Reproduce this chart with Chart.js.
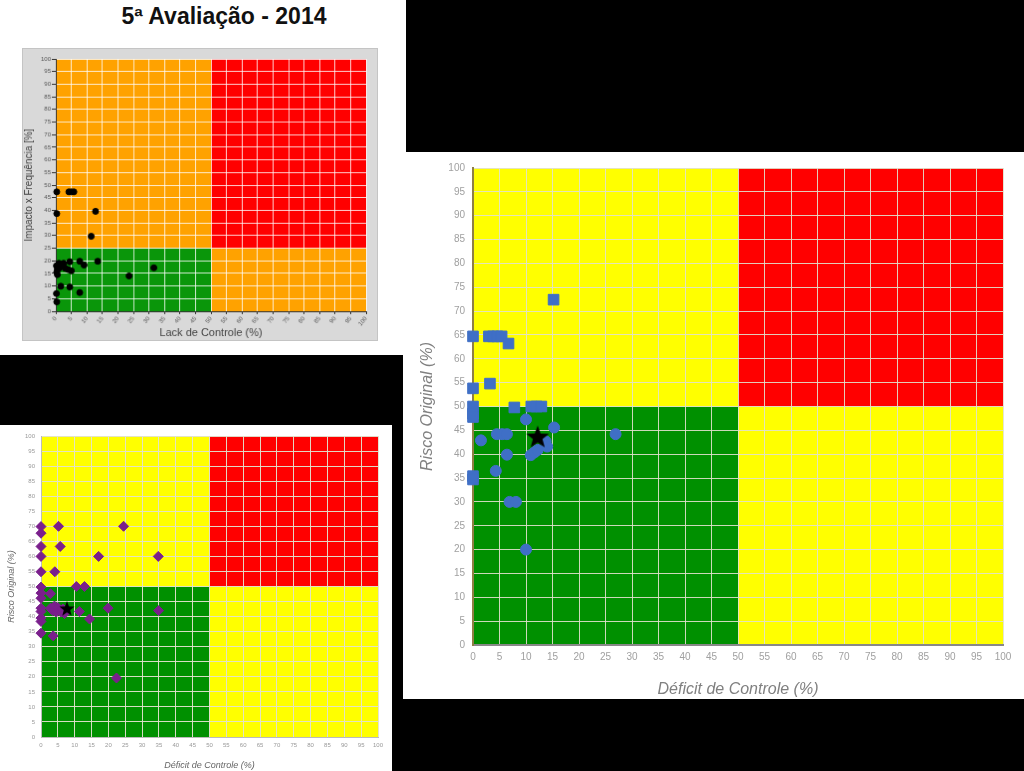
<!DOCTYPE html>
<html>
<head>
<meta charset="utf-8">
<script src="https://cdn.jsdelivr.net/npm/chart.js@4/dist/chart.umd.min.js"></script>
<style>
body { margin: 0; width: 1024px; height: 771px; background: #000; position: relative; overflow: hidden; font-family: "Liberation Sans", Arial, sans-serif; }
.panel { position: absolute; background: #fff; }
canvas { position: absolute; }
#titulo { position: absolute; left: 0; top: 3px; width: 448px; text-align: center; font-weight: bold; font-size: 23px; color: #111; }
</style>
</head>
<body>
<div class="panel" style="left:0;top:0;width:406px;height:355px"></div>
<div class="panel" style="left:0;top:425px;width:392px;height:346px"></div>
<div class="panel" style="left:403px;top:152px;width:621px;height:547px"></div>
<div id="titulo">5ª Avaliação - 2014</div>
<canvas id="grafico1" style="left:22px;top:48px;background:#d9d9d9;border:1px solid #c4c4c4" width="356" height="293"></canvas>
<canvas id="grafico2" style="left:403px;top:152px" width="621" height="547"></canvas>
<canvas id="grafico3" style="left:0;top:425px" width="392" height="346"></canvas>
<script>
// 5a Avaliacao - 2014 (top left)
const lackControle = [0.3, 4.2, 5.0, 5.8, 0.3, 12.8, 11.4, 7.7, 9.1, 13.5, 23.6, 31.6, 4.5, 1.6, 4.5, 7.7, 0.2, 0.3,
    0.3, 0.5, 1.0, 1.5, 2.0, 2.5, 3.0, 4.0, 5.0, 0.2, 1.0, 0.5];
const impactoFreq = [47.3, 47.3, 47.3, 47.3, 38.7, 39.6, 29.7, 19.8, 18.3, 19.8, 14.0, 17.2, 19.6, 9.9, 9.6, 7.4, 7.0, 3.7,
    15.5, 16.5, 17.0, 18.0, 18.5, 19.0, 17.0, 16.5, 16.0, 18.0, 19.0, 14.5];

// right chart
const deficitQuad = [15.2, 0, 3.0, 3.8, 4.6, 5.4, 6.7, 3.2, 0, 0, 0, 0, 7.8, 11.0, 12.0, 12.9, 0, 0];
const riscoQuad = [72.4, 64.7, 64.7, 64.7, 64.7, 64.7, 63.2, 54.8, 53.8, 50.0, 48.5, 47.8, 49.8, 50.0, 50.0, 50.0, 35.4, 34.7];
const deficitCirc = [10.0, 15.3, 26.9, 1.5, 4.5, 5.5, 6.4, 13.7, 14.0, 6.4, 10.9, 11.6, 12.2, 4.3, 6.9, 8.1, 10.0];
const riscoCirc = [47.3, 45.6, 44.2, 42.9, 44.2, 44.2, 44.2, 42.7, 41.6, 39.9, 39.8, 40.4, 40.9, 36.5, 30.0, 30.0, 20.0];
const mediaDeficit2 = [12.2];
const mediaRisco2 = [43.7];

// bottom left chart
const deficitLosango = [0, 0, 5.2, 24.5, 0, 5.7, 0, 17.1, 34.8, 0, 4.1, 0, 10.5, 12.9, 0, 0, 2.8, 0, 0, 0, 0,
    2.8, 3.5, 4.0, 4.5, 5.0, 5.5, 6.0, 6.5, 7.0, 11.4, 19.9, 34.9, 14.4, 0, 3.6, 22.4];
const riscoLosango = [69.9, 67.7, 70.0, 70.0, 63.3, 63.3, 60.0, 60.0, 60.0, 54.9, 54.9, 49.8, 50.0, 50.0, 47.8, 46.1, 47.6, 42.8, 41.7, 39.5, 38.4,
    42.8, 42.0, 43.5, 41.5, 43.0, 42.0, 41.5, 42.5, 41.0, 41.7, 42.8, 42.0, 39.2, 34.5, 33.6, 19.6];
const mediaDeficit3 = [7.7];
const mediaRisco3 = [42.8];

// quadrant limits
const limiteX = [0, 50, 100];
const limiteY1 = [0, 25, 100];
const limiteY = [0, 50, 100];

function pontos(xs, ys) {
    return xs.map((x, i) => ({ x: x, y: ys[i] }));
}

function makeStar(size) {
    const c = document.createElement('canvas');
    c.width = size; c.height = size;
    const g = c.getContext('2d');
    g.fillStyle = '#000';
    g.beginPath();
    for (let i = 0; i < 10; i++) {
        const r = i % 2 ? size * 0.21 : size / 2;
        const a = -Math.PI / 2 + i * Math.PI / 5;
        g.lineTo(size / 2 + r * Math.cos(a), size / 2 + 1 + r * Math.sin(a));
    }
    g.closePath();
    g.fill();
    return c;
}

// paints the coloured quadrants behind the grid
const zonasPlugin = {
    id: 'zonas',
    beforeDraw(chart, args, opts) {
        const ctx = chart.ctx;
        const x = chart.scales.x;
        const y = chart.scales.y;
        ctx.save();
        for (let i = 0; i < 2; i++) {
            for (let j = 0; j < 2; j++) {
                const left = x.getPixelForValue(opts.xs[i]);
                const right = x.getPixelForValue(opts.xs[i + 1]);
                const bottom = y.getPixelForValue(opts.ys[j]);
                const top = y.getPixelForValue(opts.ys[j + 1]);
                ctx.fillStyle = opts.cores[i][j];
                ctx.fillRect(left, top, right - left, bottom - top);
            }
        }
        ctx.restore();
    }
};

function eixo(cfg) {
    return {
        type: 'linear',
        min: 0,
        max: 100,
        ticks: { stepSize: 5, color: cfg.tickColor, font: { size: cfg.tickSize }, padding: cfg.tickPad },
        grid: { color: cfg.gridColor, lineWidth: 1, tickLength: cfg.tickLen, tickColor: cfg.tickMark },
        border: { display: true, color: cfg.borderColor, width: cfg.borderWidth || 1 },
        title: { display: true, text: cfg.titulo, color: cfg.titleColor, padding: { top: cfg.titlePad || 0, bottom: 0 },
            font: { size: cfg.titleSize, style: cfg.italic ? 'italic' : 'normal' } },
        afterFit: cfg.fit
    };
}

function drawChart(id, datasets, opts) {
    datasets.forEach(d => { d.clip = false });
    new Chart(document.getElementById(id), {
        type: 'scatter',
        data: { datasets: datasets },
        options: {
            responsive: false,
            animation: false,
            layout: { padding: opts.padding },
            plugins: {
                legend: { display: false },
                tooltip: { enabled: false },
                zonas: opts.zonas
            },
            scales: { x: opts.x, y: opts.y }
        },
        plugins: [zonasPlugin]
    });
}

Chart.defaults.font.family = '"Liberation Sans", Arial, sans-serif';

// top left
drawChart('grafico1', [{
    data: pontos(lackControle, impactoFreq),
    backgroundColor: '#000', borderColor: '#000', pointRadius: 3
}], {
    padding: { top: 10, right: 11 },
    zonas: { xs: limiteX, ys: limiteY1, cores: [['#0a960a', '#ffa200'], ['#ffa200', '#ff0000']] },
    x: eixo({ tickColor: '#555', tickSize: 6, tickPad: 1, gridColor: 'rgba(255,255,255,0.8)', tickLen: 3, tickMark: '#333',
        borderColor: '#333', titulo: 'Lack de Controle (%)', titleColor: '#444', titleSize: 11,
        fit: s => { s.height = 29 } }),
    y: eixo({ tickColor: '#555', tickSize: 6, tickPad: 1, gridColor: 'rgba(255,255,255,0.8)', tickLen: 4, tickMark: '#333',
        borderColor: '#333', titulo: 'Impacto x Frequência [%]', titleColor: '#444', titleSize: 10,
        fit: s => { s.width = 33 } })
});

// right
drawChart('grafico2', [{
    data: pontos(mediaDeficit2, mediaRisco2),
    pointStyle: makeStar(24), pointRadius: 12
}, {
    data: pontos(deficitQuad, riscoQuad),
    backgroundColor: '#3f6fc6', borderColor: '#3f6fc6', pointStyle: 'rect', pointRadius: 7.5
}, {
    data: pontos(deficitCirc, riscoCirc),
    backgroundColor: '#3f6fc6', borderColor: '#3f6fc6', pointStyle: 'circle', pointRadius: 5.5
}], {
    padding: { top: 16, right: 21 },
    zonas: { xs: limiteX, ys: limiteY, cores: [['#009000', '#ffff00'], ['#ffff00', '#ff0000']] },
    x: eixo({ tickColor: '#a0a0a0', tickSize: 10, tickPad: 6, gridColor: 'rgba(225,225,205,0.9)', tickLen: 0, tickMark: '#999',
        borderColor: '#888', borderWidth: 2, titulo: 'Déficit de Controle (%)', titleColor: '#808080', titleSize: 16, italic: true,
        fit: s => { s.height = 54 } }),
    y: eixo({ tickColor: '#a0a0a0', tickSize: 10, tickPad: 8, gridColor: 'rgba(225,225,205,0.9)', tickLen: 0, tickMark: '#999',
        borderColor: '#8f7f45', borderWidth: 2, titulo: 'Risco Original (%)', titleColor: '#808080', titleSize: 16, italic: true,
        titlePad: 15, fit: s => { s.width = 70 } })
});

// bottom left
drawChart('grafico3', [{
    data: pontos(mediaDeficit3, mediaRisco3),
    pointStyle: makeStar(16), pointRadius: 8
}, {
    data: pontos(deficitLosango, riscoLosango),
    backgroundColor: '#7a1f8c', borderColor: '#7a1f8c', pointStyle: 'rectRot', pointRadius: 5
}], {
    padding: { top: 11, right: 14 },
    zonas: { xs: limiteX, ys: limiteY, cores: [['#009000', '#ffff00'], ['#ffff00', '#ff0000']] },
    x: eixo({ tickColor: '#999', tickSize: 6, tickPad: 5, gridColor: 'rgba(225,225,205,0.95)', tickLen: 0, tickMark: '#999',
        borderColor: '#bbb', titulo: 'Déficit de Controle (%)', titleColor: '#666', titleSize: 9, italic: true,
        fit: s => { s.height = 34 } }),
    y: eixo({ tickColor: '#999', tickSize: 6, tickPad: 6, gridColor: 'rgba(225,225,205,0.95)', tickLen: 0, tickMark: '#999',
        borderColor: '#bbb', titulo: 'Risco Original (%)', titleColor: '#666', titleSize: 9, italic: true,
        titlePad: 6, fit: s => { s.width = 41 } })
});
</script>
</body>
</html>
